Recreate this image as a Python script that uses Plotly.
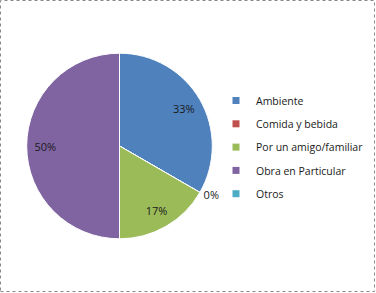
import plotly.graph_objects as go

categories = ["Ambiente", "Comida y bebida", "Por un amigo/familiar", "Obra en Particular", "Otros"]
values = [2, 0, 1, 3, 0]
colors = ["#4F81BD", "#C0504D", "#9BBB59", "#8064A2", "#4BACC6"]
text_positions = ["inside", "outside", "inside", "inside", "none"]

W, H = 376, 293
cx, cy, rd = 119.5, 146, 92.8
domain = dict(x=[(cx - rd) / W, (cx + rd) / W], y=[1 - (cy + rd) / H, 1 - (cy - rd) / H])
font = dict(family="Open Sans", size=11, color="#1a1a1a")

fig = go.Figure()
# coloured slices
fig.add_trace(go.Pie(
    labels=categories, values=values,
    marker=dict(colors=colors, line=dict(color="white", width=1)),
    sort=False, direction="clockwise", rotation=0,
    textinfo="none", textposition=text_positions,
    domain=domain, hoverinfo="label+percent", showlegend=False,
))
# transparent ring carrying the percentage labels (sits them further out, like Excel)
fig.add_trace(go.Pie(
    labels=categories, values=values, hole=0.6,
    marker=dict(colors=["rgba(0,0,0,0)"] * len(values), line=dict(width=0)),
    sort=False, direction="clockwise", rotation=0,
    texttemplate="%{percent:.0%}", textposition=text_positions,
    insidetextorientation="horizontal",
    textfont=font, domain=domain, hoverinfo="skip", showlegend=False,
))

for name, col in zip(categories, colors):
    fig.add_trace(go.Scatter(
        x=[None], y=[None], mode="markers", name=name, legendgroup=name,
        marker=dict(symbol="square", size=7, color=col),
    ))

fig.update_layout(
    width=W, height=H,
    margin=dict(l=0, r=0, t=0, b=0),
    paper_bgcolor="white", plot_bgcolor="white",
    xaxis=dict(visible=False), yaxis=dict(visible=False),
    showlegend=True,
    legend=dict(x=216 / W, y=1 - 86 / H, xanchor="left", yanchor="top",
                traceorder="grouped", tracegroupgap=4.3, itemwidth=30,
                font=dict(family="Open Sans", size=10.5, color="#1a1a1a"),
                bgcolor="rgba(0,0,0,0)"),
    shapes=[dict(type="rect", xref="paper", yref="paper",
                 x0=0.5 / W, x1=1 - 1.5 / W, y0=1.5 / H, y1=1 - 0.5 / H,
                 line=dict(color="#888888", width=1, dash="dot"))],
)

fig.write_html("out.html", config={"displayModeBar": False},
               post_script="document.body.style.margin='0';document.body.style.overflow='hidden';")
